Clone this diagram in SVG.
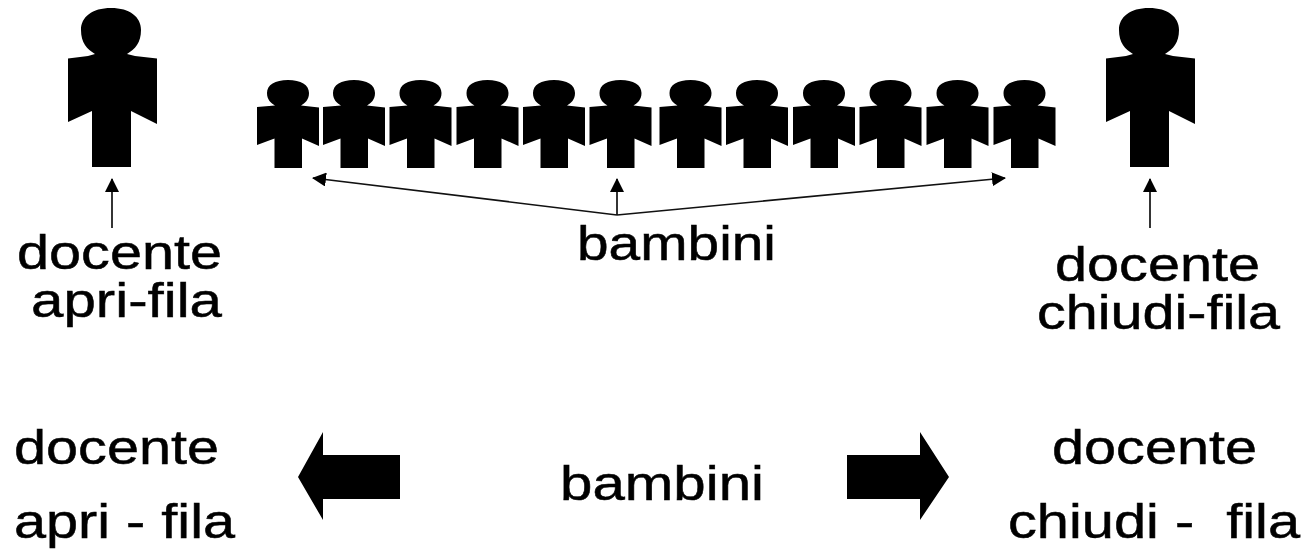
<svg xmlns="http://www.w3.org/2000/svg" width="1306" height="549" viewBox="0 0 1306 549">
<style>
text{font-family:"Liberation Sans",Arial,sans-serif;font-size:49px;fill:#000;stroke:#000;stroke-width:.5;white-space:pre}
.c{stroke:#111;stroke-width:1.7;fill:none}
</style>
<defs>
<marker id="a" markerUnits="userSpaceOnUse" markerWidth="14" markerHeight="14" refX="13" refY="7" orient="auto"><path d="M0 0L14 7L0 14z" fill="#000"/></marker>
<g id="big"><path d="M111 8C130 8 141 17 141 30C141 43 135 49 127 54L135 56L157 58.500V124L131 111V167H92V111L68 122V58.500L88 56L95 54C87 49 81 43 81 30C81 17 92 8 111 8z"/></g>
<g id="small"><path d="M0 80C13 80 21 85 21 93C21 100 17 103 13 105.500L31 107.500V146L14 138.500V168H-13.500V138.500L-31 145V107L-13 105.500C-17 103 -21 100 -21 93C-21 85 -13 80 0 80z"/></g>
</defs>
<rect width="1306" height="549" fill="#fff"/>
<g id="connectors">
<path class="c" marker-end="url(#a)" d="M112 228V179"/>
<path class="c" marker-end="url(#a)" d="M617 215V179"/>
<path class="c" marker-end="url(#a)" d="M617 215L313 178"/>
<path class="c" marker-end="url(#a)" d="M617 215L1005 178"/>
<path class="c" marker-end="url(#a)" d="M1150 228V179"/>
</g>
<g id="teacher-open"><use href="#big"/></g>
<g id="teacher-close"><use href="#big" x="1038"/></g>
<g id="children">
<use href="#small" x="288"/><use href="#small" x="354"/><use href="#small" x="420.500"/><use href="#small" x="487.500"/><use href="#small" x="554"/><use href="#small" x="620.500"/><use href="#small" x="690.500"/><use href="#small" x="757"/><use href="#small" x="824"/><use href="#small" x="890.500"/><use href="#small" x="957.500"/><use href="#small" x="1024.500"/>
</g>
<g id="label-open"><text x="17" y="269" textLength="205" lengthAdjust="spacingAndGlyphs">docente</text><text x="31" y="317" textLength="191" lengthAdjust="spacingAndGlyphs">apri-fila</text></g>
<g id="label-children"><text x="577" y="260" textLength="199" lengthAdjust="spacingAndGlyphs">bambini</text></g>
<g id="label-close"><text x="1055" y="281" textLength="205" lengthAdjust="spacingAndGlyphs">docente</text><text x="1037" y="329" textLength="243" lengthAdjust="spacingAndGlyphs">chiudi-fila</text></g>
<g id="label-open-2"><text x="14" y="464" textLength="205" lengthAdjust="spacingAndGlyphs">docente</text><text x="14" y="538" textLength="221" lengthAdjust="spacingAndGlyphs">apri - fila</text></g>
<g id="arrow-left"><path d="M298 477L323 432V455H400V499H323V520z"/></g>
<g id="label-children-2"><text x="560" y="500" textLength="204" lengthAdjust="spacingAndGlyphs">bambini</text></g>
<g id="arrow-right"><path d="M847 455H920V432L949 477L920 520V499H847z"/></g>
<g id="label-close-2"><text x="1052" y="464" textLength="205" lengthAdjust="spacingAndGlyphs">docente</text><text x="1008" y="538" textLength="292" lengthAdjust="spacingAndGlyphs">chiudi -  fila</text></g>
</svg>
